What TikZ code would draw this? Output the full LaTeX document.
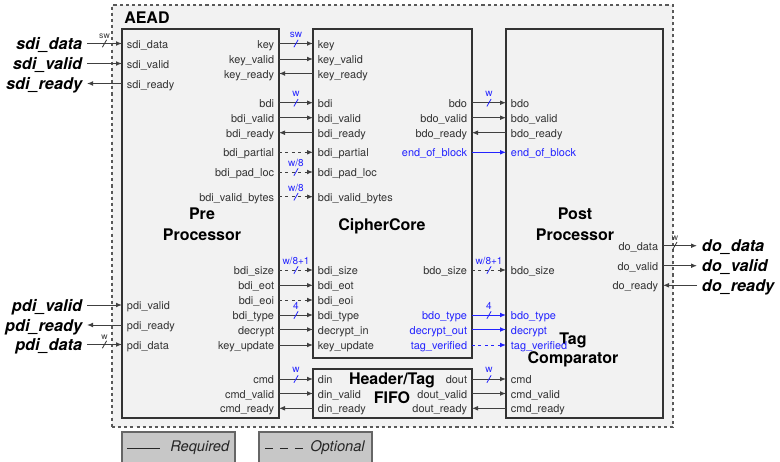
\documentclass[tikz,border=0pt]{standalone}
\usepackage{fontspec}
\setmainfont{TeX Gyre Heros}
\usetikzlibrary{arrows.meta,fit,decorations.markings}
\definecolor{sigblue}{RGB}{35,35,255}
\tikzset{
  aeadbox/.style={draw=black!65,fill=black!5,dash pattern=on 2.3pt off 2.3pt,line width=0.8pt,inner sep=0pt},
  block/.style={draw=black!80,fill=black!5,line width=0.8pt,inner sep=0pt},
  legendbox/.style={draw=black!60,fill=black!22,line width=0.8pt,inner sep=0pt},
  legendtxt/.style={font=\fontsize{11}{13}\selectfont\itshape,text=black!85,inner sep=0pt},
  legendline/.style={draw=black!85,line width=0.6pt},
  title/.style={font=\fontsize{12}{14}\selectfont\bfseries,align=center,inner sep=0pt},
  port/.style={font=\fontsize{8.2}{9}\selectfont,text=black!80,inner xsep=3.5pt,inner ysep=0pt,text height=7pt,text depth=0pt},
  inport/.style={port,anchor=west},
  outport/.style={port,anchor=east},
  ext/.style={font=\fontsize{12.2}{14}\selectfont\bfseries\itshape,inner xsep=3.5pt,inner ysep=0pt,text height=9pt,text depth=0pt},
  sig/.style={draw=black!75,line width=0.75pt,-{Latex[length=4.5pt,width=3.6pt]}},
  opt/.style={sig,dash pattern=on 2.2pt off 2.6pt},
  bsig/.style={sig,draw=sigblue},
  bopt/.style={opt,draw=sigblue},
  buslbl/.style={font=\fontsize{7.5}{8}\selectfont,text=sigblue,inner sep=0pt},
  xbuslbl/.style={font=\fontsize{6.5}{7}\selectfont,text=black!80,inner sep=0pt},
  bus/.style={postaction={decorate,decoration={markings,mark=at position 0.5 with {\draw[sigblue,solid,-,line width=0.6pt] (-1.6pt,-2.8pt) -- (1.6pt,2.8pt); \node[buslbl] at (0,6.6pt) {#1};}}}},
  xbus/.style 2 args={postaction={decorate,decoration={markings,mark=at position #1 with {\draw[black!80,solid,-,line width=0.6pt] (-1.6pt,-2.8pt) -- (1.6pt,2.8pt); \node[xbuslbl] at (0,5.8pt) {#2};}}}}
}

\begin{document}
\begin{tikzpicture}[x=0.75pt,y=-0.75pt]
\useasboundingbox (0,0) rectangle (780,461);
\clip (0,0) rectangle (780,461);

\node (AEAD) [aeadbox,fit={(112,5) (673,427)}] {};
\node (AEADlbl) at (124,23.5) [title,anchor=base west] {AEAD};
\node (Pre) [block,fit={(122,29) (279,418)}] {};
\node (CC) [block,fit={(313,29) (472,358)}] {};
\node (FIFO) [block,fit={(313,369) (472,418)}] {};
\node (Post) [block,fit={(506,29) (663,418)}] {};

\node (PreT) at (202,224) [title] {Pre\\[1.5pt]Processor};
\node (CCT) at (382,226) [title] {CipherCore};
\node (PostT) at (575,224) [title] {Post\\[1.5pt]Processor};
\node (TagT) at (573,350) [title] {Tag\\Comparator};
\node (FIFOT) at (392,388) [title] {Header/Tag\\FIFO};

% legend
\node (Req) [legendbox,fit={(122,432) (235,470)}] {};
\node (Opt) [legendbox,fit={(259,432) (372,470)}] {};
\node (ReqT) at (170,448) [legendtxt,anchor=west] {Required};
\node (OptT) at (310,448) [legendtxt,anchor=west] {Optional};
\draw[legendline] (127,448) -- (160,448);
\draw[legendline,dash pattern=on 6pt off 5.2pt] (265,448) -- (303,448);

% outside ports
\node (sdiData) at (87,43.5) [ext,anchor=east] {sdi\_data};
\node (sdiValid) at (87,63.5) [ext,anchor=east] {sdi\_valid};
\node (sdiReady) at (87,83.5) [ext,anchor=east] {sdi\_ready};
\node (pdiValid) at (87,305) [ext,anchor=east] {pdi\_valid};
\node (pdiReady) at (87,325) [ext,anchor=east] {pdi\_ready};
\node (pdiData) at (87,344.5) [ext,anchor=east] {pdi\_data};
\node (doData) at (697,245.7) [ext,anchor=west] {do\_data};
\node (doValid) at (697,265.7) [ext,anchor=west] {do\_valid};
\node (doReady) at (697,285.3) [ext,anchor=west] {do\_ready};

% Pre Processor
\node (pSdiData) at (122,43.5) [inport] {sdi\_data};
\node (pSdiValid) at (122,63.5) [inport] {sdi\_valid};
\node (pSdiReady) at (122,83.5) [inport] {sdi\_ready};
\node (pPdiValid) at (122,305) [inport] {pdi\_valid};
\node (pPdiReady) at (122,325) [inport] {pdi\_ready};
\node (pPdiData) at (122,344.5) [inport] {pdi\_data};
\node (pKey) at (279,43.5) [outport] {key};
\node (pKeyValid) at (279,59) [outport] {key\_valid};
\node (pKeyReady) at (279,73.5) [outport] {key\_ready};
\node (pBdi) at (279,102.7) [outport] {bdi};
\node (pBdiValid) at (279,117.7) [outport] {bdi\_valid};
\node (pBdiReady) at (279,132.7) [outport] {bdi\_ready};
\node (pBdiPartial) at (279,152.3) [outport] {bdi\_partial};
\node (pBdiPadLoc) at (279,172) [outport] {bdi\_pad\_loc};
\node (pBdiValidBytes) at (279,196.7) [outport] {bdi\_valid\_bytes};
\node (pBdiSize) at (279,270) [outport] {bdi\_size};
\node (pBdiEot) at (279,285.3) [outport] {bdi\_eot};
\node (pBdiEoi) at (279,300) [outport] {bdi\_eoi};
\node (pBdiType) at (279,315) [outport] {bdi\_type};
\node (pDecrypt) at (279,329.5) [outport] {decrypt};
\node (pKeyUpdate) at (279,345) [outport] {key\_update};
\node (pCmd) at (279,379) [outport] {cmd};
\node (pCmdValid) at (279,393.5) [outport] {cmd\_valid};
\node (pCmdReady) at (279,408.3) [outport] {cmd\_ready};

% CipherCore
\node (cKey) at (313,43.5) [inport] {key};
\node (cKeyValid) at (313,59) [inport] {key\_valid};
\node (cKeyReady) at (313,73.5) [inport] {key\_ready};
\node (cBdi) at (313,102.7) [inport] {bdi};
\node (cBdiValid) at (313,117.7) [inport] {bdi\_valid};
\node (cBdiReady) at (313,132.7) [inport] {bdi\_ready};
\node (cBdiPartial) at (313,152.3) [inport] {bdi\_partial};
\node (cBdiPadLoc) at (313,172) [inport] {bdi\_pad\_loc};
\node (cBdiValidBytes) at (313,196.7) [inport] {bdi\_valid\_bytes};
\node (cBdiSize) at (313,270) [inport] {bdi\_size};
\node (cBdiEot) at (313,285.3) [inport] {bdi\_eot};
\node (cBdiEoi) at (313,300) [inport] {bdi\_eoi};
\node (cBdiType) at (313,315) [inport] {bdi\_type};
\node (cDecryptIn) at (313,329.5) [inport] {decrypt\_in};
\node (cKeyUpdate) at (313,345) [inport] {key\_update};
\node (cBdo) at (472,102.7) [outport] {bdo};
\node (cBdoValid) at (472,117.7) [outport] {bdo\_valid};
\node (cBdoReady) at (472,132.7) [outport] {bdo\_ready};
\node (cEob) at (472,152.3) [outport,text=sigblue] {end\_of\_block};
\node (cBdoSize) at (472,270) [outport] {bdo\_size};
\node (cBdoType) at (472,315) [outport,text=sigblue] {bdo\_type};
\node (cDecryptOut) at (472,329.5) [outport,text=sigblue] {decrypt\_out};
\node (cTagVerified) at (472,345) [outport,text=sigblue] {tag\_verified};

% Header/Tag FIFO
\node (fDin) at (313,379) [inport] {din};
\node (fDinValid) at (313,393.5) [inport] {din\_valid};
\node (fDinReady) at (313,408.3) [inport] {din\_ready};
\node (fDout) at (472,379) [outport] {dout};
\node (fDoutValid) at (472,393.5) [outport] {dout\_valid};
\node (fDoutReady) at (472,408.3) [outport] {dout\_ready};

% Post Processor
\node (qBdo) at (506,102.7) [inport] {bdo};
\node (qBdoValid) at (506,117.7) [inport] {bdo\_valid};
\node (qBdoReady) at (506,132.7) [inport] {bdo\_ready};
\node (qEob) at (506,152.3) [inport,text=sigblue] {end\_of\_block};
\node (qBdoSize) at (506,270) [inport] {bdo\_size};
\node (qBdoType) at (506,315) [inport,text=sigblue] {bdo\_type};
\node (qDecrypt) at (506,329.5) [inport,text=sigblue] {decrypt};
\node (qTagVerified) at (506,345) [inport,text=sigblue] {tag\_verified};
\node (qCmd) at (506,379) [inport] {cmd};
\node (qCmdValid) at (506,393.5) [inport] {cmd\_valid};
\node (qCmdReady) at (506,408.3) [inport] {cmd\_ready};
\node (qDoData) at (663,245.7) [outport] {do\_data};
\node (qDoValid) at (663,265.7) [outport] {do\_valid};
\node (qDoReady) at (663,285.3) [outport] {do\_ready};

% connections
\draw[sig,xbus={0.5}{sw}] (sdiData.east) -- (pSdiData.west);
\draw[sig] (sdiValid.east) -- (pSdiValid.west);
\draw[sig] (pSdiReady.west) -- (sdiReady.east);
\draw[sig] (pdiValid.east) -- (pPdiValid.west);
\draw[sig] (pPdiReady.west) -- (pdiReady.east);
\draw[sig,xbus={0.5}{w}] (pdiData.east) -- (pPdiData.west);

\draw[sig,bus=sw] (pKey.east) -- (cKey.west);
\draw[sig] (pKeyValid.east) -- (cKeyValid.west);
\draw[sig] (cKeyReady.west) -- (pKeyReady.east);
\draw[sig,bus=w] (pBdi.east) -- (cBdi.west);
\draw[sig] (pBdiValid.east) -- (cBdiValid.west);
\draw[sig] (cBdiReady.west) -- (pBdiReady.east);
\draw[opt] (pBdiPartial.east) -- (cBdiPartial.west);
\draw[opt,bus=w/8] (pBdiPadLoc.east) -- (cBdiPadLoc.west);
\draw[opt,bus=w/8] (pBdiValidBytes.east) -- (cBdiValidBytes.west);
\draw[opt,bus=w/8+1] (pBdiSize.east) -- (cBdiSize.west);
\draw[sig] (pBdiEot.east) -- (cBdiEot.west);
\draw[opt] (pBdiEoi.east) -- (cBdiEoi.west);
\draw[sig,bus=4] (pBdiType.east) -- (cBdiType.west);
\draw[sig] (pDecrypt.east) -- (cDecryptIn.west);
\draw[sig] (pKeyUpdate.east) -- (cKeyUpdate.west);
\draw[sig,bus=w] (pCmd.east) -- (fDin.west);
\draw[sig] (pCmdValid.east) -- (fDinValid.west);
\draw[sig] (fDinReady.west) -- (pCmdReady.east);

\draw[sig,bus=w] (cBdo.east) -- (qBdo.west);
\draw[sig] (cBdoValid.east) -- (qBdoValid.west);
\draw[sig] (qBdoReady.west) -- (cBdoReady.east);
\draw[bsig] (cEob.east) -- (qEob.west);
\draw[opt,bus=w/8+1] (cBdoSize.east) -- (qBdoSize.west);
\draw[bsig,bus=4] (cBdoType.east) -- (qBdoType.west);
\draw[bsig] (cDecryptOut.east) -- (qDecrypt.west);
\draw[bopt] (cTagVerified.east) -- (qTagVerified.west);
\draw[sig,bus=w] (fDout.east) -- (qCmd.west);
\draw[sig] (fDoutValid.east) -- (qCmdValid.west);
\draw[sig] (qCmdReady.west) -- (fDoutReady.east);

\draw[sig,xbus={0.35}{w}] (qDoData.east) -- (doData.west);
\draw[sig] (qDoValid.east) -- (doValid.west);
\draw[sig] (doReady.west) -- (qDoReady.east);
\end{tikzpicture}
\end{document}
